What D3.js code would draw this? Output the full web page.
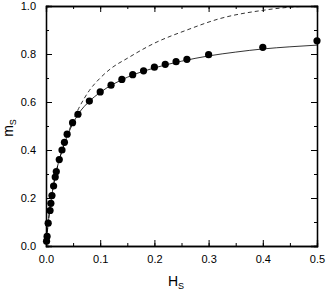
<!DOCTYPE html>
<html><head><meta charset="utf-8">
<script src="https://cdn.jsdelivr.net/npm/d3@7"></script>
<style>body{margin:0;background:#fff}svg{display:block}text{font-family:"Liberation Sans",Arial,sans-serif}</style>
</head><body>
<script>
const hData = [0.001,0.002,0.004,0.0075,0.009,0.011,0.014,0.017,0.019,0.0245,0.0295,0.034,0.039,0.049,0.059,0.08,0.10,0.12,0.14,0.16,0.18,0.20,0.22,0.24,0.26,0.30,0.40,0.50];
const mData = [0.02,0.04,0.095,0.148,0.178,0.21,0.25,0.287,0.31,0.36,0.40,0.432,0.466,0.514,0.549,0.604,0.642,0.670,0.694,0.714,0.730,0.745,0.757,0.768,0.778,0.797,0.828,0.855];
const solidH = [0,0.002,0.005,0.01,0.02,0.03,0.04,0.05,0.06,0.08,0.10,0.15,0.20,0.25,0.30,0.35,0.40,0.45,0.50];
const solidM = [0,0.05,0.115,0.2,0.32,0.40,0.462,0.512,0.551,0.603,0.640,0.703,0.742,0.77,0.792,0.808,0.821,0.830,0.837];
const dashH = [0,0.002,0.005,0.01,0.02,0.03,0.04,0.05,0.06,0.08,0.10,0.12,0.15,0.20,0.26,0.32,0.40,0.45,0.50];
const dashM = [0,0.05,0.115,0.2,0.32,0.40,0.465,0.525,0.572,0.648,0.700,0.740,0.782,0.845,0.900,0.947,0.982,0.995,1.0];
const xTicks = [0,0.1,0.2,0.3,0.4,0.5];
const yTicks = [0,0.2,0.4,0.6,0.8,1.0];

const W=327,H=292, L=46, R=317, T=6, B=246;
const svg=d3.select("body").append("svg").attr("width",W).attr("height",H);
const x=d3.scaleLinear().domain([0,0.5]).range([L,R]);
const y=d3.scaleLinear().domain([0,1]).range([B,T]);
const minorX=d3.range(0,0.5001,0.05), minorY=d3.range(0,1.0001,0.1);

function ax(axis, tr){ return svg.append("g").attr("transform",tr).call(axis); }
// minor ticks
ax(d3.axisBottom(x).tickValues(minorX).tickSize(-3).tickFormat(""),`translate(0,${B})`);
ax(d3.axisTop(x).tickValues(minorX).tickSize(-3).tickFormat(""),`translate(0,${T})`);
ax(d3.axisLeft(y).tickValues(minorY).tickSize(-3).tickFormat(""),`translate(${L},0)`);
ax(d3.axisRight(y).tickValues(minorY).tickSize(-3).tickFormat(""),`translate(${R},0)`);
// major
ax(d3.axisBottom(x).tickValues(xTicks).tickSize(-6).tickPadding(9).tickFormat(d3.format(".1f")),`translate(0,${B})`);
ax(d3.axisTop(x).tickValues(xTicks).tickSize(-6).tickFormat(""),`translate(0,${T})`);
ax(d3.axisLeft(y).tickValues(yTicks).tickSize(-6).tickPadding(10).tickFormat(d3.format(".1f")),`translate(${L},0)`);
ax(d3.axisRight(y).tickValues(yTicks).tickSize(-6).tickFormat(""),`translate(${R},0)`);
svg.selectAll(".domain").attr("stroke","#000").attr("stroke-width",1.3);
svg.selectAll(".tick line").attr("stroke","#000").attr("stroke-width",1);
svg.selectAll(".tick text").attr("font-size",11).attr("fill","#000").attr("font-family","Liberation Sans, Arial, sans-serif");

const clip=svg.append("clipPath").attr("id","c").append("rect").attr("x",L).attr("y",T).attr("width",R-L).attr("height",B-T);
const line=d3.line().x(d=>x(d[0])).y(d=>y(d[1])).curve(d3.curveMonotoneX);
const g=svg.append("g").attr("clip-path","url(#c)");
g.append("path").attr("d",line(dashH.map((h,i)=>[h,dashM[i]]))).attr("fill","none").attr("stroke","#000").attr("stroke-width",0.8).attr("stroke-dasharray","4,3");
g.append("path").attr("d",line(solidH.map((h,i)=>[h,solidM[i]]))).attr("fill","none").attr("stroke","#000").attr("stroke-width",0.8);
svg.append("g").selectAll("circle").data(hData.map((h,i)=>[h,mData[i]])).join("circle")
  .attr("cx",d=>x(d[0])).attr("cy",d=>y(d[1])).attr("r",3.6).attr("fill","#000");

// axis titles
const xt=svg.append("text").attr("x",176).attr("y",286).attr("font-size",14).attr("text-anchor","middle");
xt.append("tspan").text("H");
xt.append("tspan").text("S").attr("font-size",9).attr("dy",3);
const yt=svg.append("text").attr("transform","translate(13,128) rotate(-90)").attr("font-size",14).attr("text-anchor","middle");
yt.append("tspan").text("m");
yt.append("tspan").text("S").attr("font-size",9).attr("dy",3);
</script>
</body></html>
